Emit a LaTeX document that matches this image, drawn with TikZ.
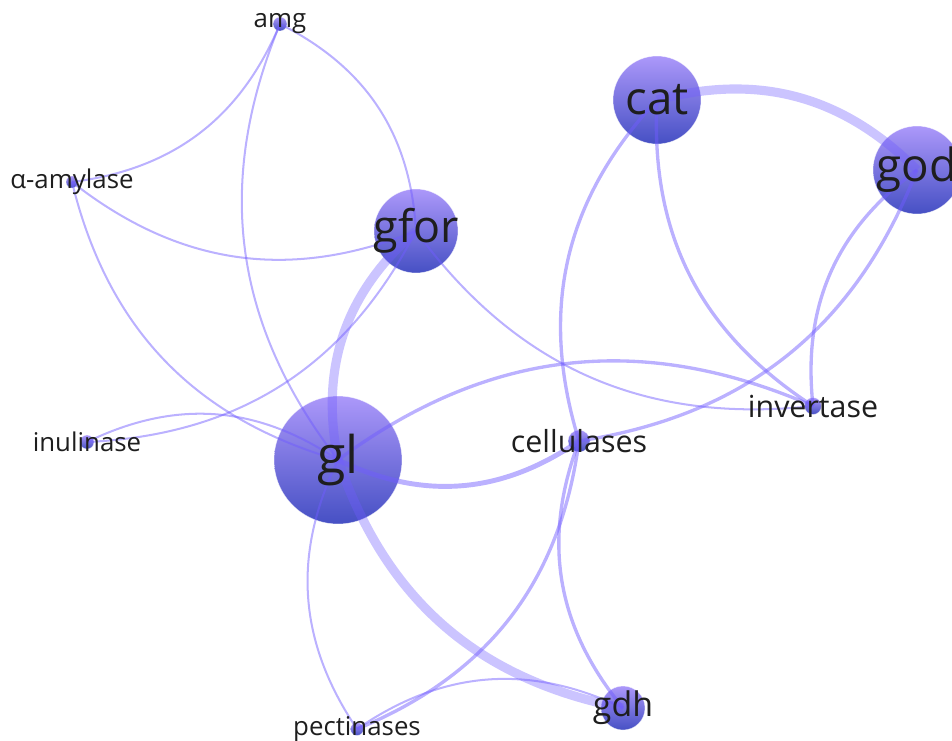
\documentclass[tikz,border=0pt]{standalone}
\usepackage{fontspec}
\setmainfont{Open Sans}
\definecolor{nodetop}{RGB}{172,152,250}
\definecolor{nodebot}{RGB}{70,80,196}
\definecolor{edgecol}{RGB}{112,92,255}
\definecolor{labcol}{RGB}{30,30,30}
\begin{document}
\begin{tikzpicture}[x=0.02cm,y=-0.02cm,
  vert/.style={circle, inner sep=0pt, minimum size=#1*0.04cm,
    top color=nodetop, bottom color=nodebot, draw=white, draw opacity=0.6, line width=0.3pt},
  lab/.style={font=\fontsize{#1}{#1}\selectfont, text=labcol, inner sep=0pt},
  link/.style={draw=edgecol, draw opacity=0.48, line width=#1, bend left=30},
  thinlink/.style={link=1.15pt},
  midlink/.style={link=1.9pt},
  widelink/.style={link=2.8pt},
  heavylink/.style={draw=edgecol, draw opacity=0.36, line width=5.2pt, bend left=30}]
\useasboundingbox (0,0) rectangle (952,740);
\clip (0,0) rectangle (952,740);

% vertices
\node[vert=7]    (amg)  at (280,24)  {};
\node[vert=6]    (alp)  at (72,182)  {};
\node[vert=42]   (gfor) at (416,231) {};
\node[vert=44]   (cat)  at (657,100) {};
\node[vert=44]   (god)  at (917,170) {};
\node[vert=7]    (inu)  at (87,442)  {};
\node[vert=64]   (gl)   at (338,460) {};
\node[vert=11]   (cel)  at (579,441) {};
\node[vert=8.5]  (inv)  at (813,406) {};
\node[vert=22]   (gdh)  at (623,708) {};
\node[vert=6.5]  (pec)  at (357,729) {};

% links, curved clockwise
\draw[thinlink]  (amg.center)  to (alp.center);
\draw[thinlink]  (amg.center)  to (gfor.center);
\draw[thinlink]  (gl.center)   to (amg.center);
\draw[thinlink]  (gfor.center) to (alp.center);
\draw[thinlink]  (gl.center)   to (alp.center);
\draw[heavylink] (gl.center)   to (gfor.center);
\draw[thinlink]  (gfor.center) to (inu.center);
\draw[thinlink]  (inv.center)  to (gfor.center);
\draw[thinlink]  (inu.center)  to (gl.center);
\draw[thinlink]  (pec.center)  to (gl.center);
\draw[heavylink] (gdh.center)  to (gl.center);
\draw[widelink]  (cel.center)  to (gl.center);
\draw[midlink]   (gl.center)   to (inv.center);
\draw[heavylink] (cat.center)  to (god.center);
\draw[midlink]   (cel.center)  to (cat.center);
\draw[midlink]   (inv.center)  to (cat.center);
\draw[midlink]   (inv.center)  to (god.center);
\draw[midlink]   (god.center)  to (cel.center);
\draw[midlink]   (gdh.center)  to (cel.center);
\draw[midlink]   (cel.center)  to (pec.center);
\draw[thinlink]  (pec.center)  to (gdh.center);

% labels
\node[lab=14.7pt] (amg-l)  at (amg)  {amg};
\node[lab=14.7pt] (alp-l)  at (alp)  {α-amylase};
\node[lab=25.5pt] (gfor-l) at (gfor) {gfor};
\node[lab=26pt]   (cat-l)  at (cat)  {cat};
\node[lab=26pt]   (god-l)  at (god)  {god};
\node[lab=14.7pt] (inu-l)  at (inu)  {inulinase};
\node[lab=29.5pt] (gl-l)   at (gl)   {gl};
\node[lab=17.3pt] (cel-l)  at (cel)  {cellulases};
\node[lab=17.3pt] (inv-l)  at (inv)  {invertase};
\node[lab=19.3pt] (gdh-l)  at (gdh)  {gdh};
\node[lab=14.7pt] (pec-l)  at (pec)  {pectinases};
\end{tikzpicture}
\end{document}
